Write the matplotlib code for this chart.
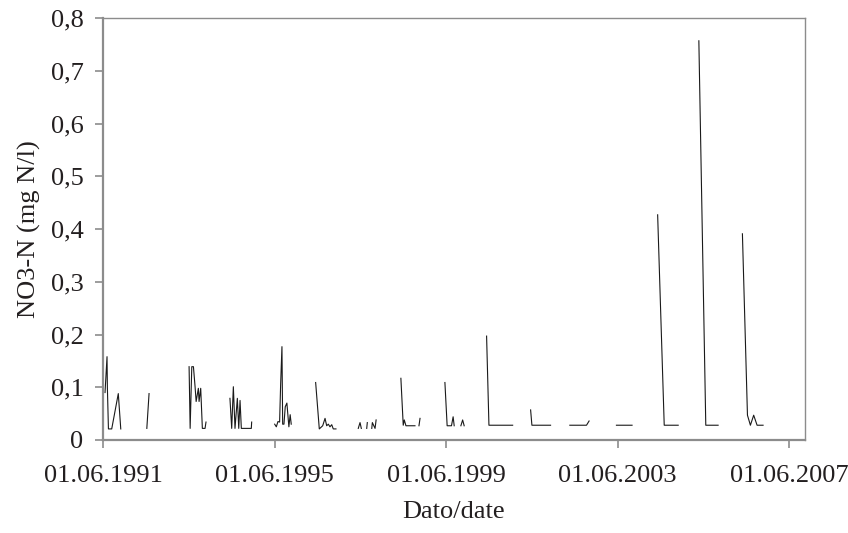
import numpy as np
import pandas as pd
import matplotlib
matplotlib.use('Agg')
import matplotlib.pyplot as plt
import matplotlib.dates as mdates

# NO3-N samples; None marks a break in the line
dates = [
    '1991-06-18', '1991-07-05', '1991-07-08', '1991-07-17', '1991-08-14', '1991-10-09', '1991-10-30', None,
    '1992-06-08', '1992-06-27', None,
    '1993-06-03', '1993-06-12', '1993-06-26', '1993-07-10', '1993-07-24', '1993-08-02', '1993-08-21',
    '1993-08-27', '1993-09-10', '1993-09-24', '1993-10-17', '1993-10-25', None,
    '1994-05-17', '1994-06-01', '1994-06-15', '1994-06-29', '1994-07-19', '1994-07-31', '1994-08-11',
    '1994-08-22', '1994-11-15', '1994-11-18', None,
    '1995-06-02', '1995-06-16', '1995-06-30', '1995-07-14', '1995-07-23', '1995-08-03', '1995-08-09',
    '1995-08-20', '1995-08-31', '1995-09-14', '1995-10-01', '1995-10-12', '1995-10-21', None,
    '1996-05-16', '1996-06-16', '1996-07-15', '1996-08-04', '1996-08-18', '1996-09-01', '1996-09-15',
    '1996-09-30', '1996-10-13', '1996-11-05', None,
    '1997-05-14', '1997-05-29', '1997-06-09', None,
    '1997-07-25', '1997-07-30', None,
    '1997-09-06', '1997-09-11', '1997-10-04', '1997-10-13', None,
    '1998-05-12', '1998-06-01', '1998-06-10', '1998-06-24', '1998-09-09', None,
    '1998-10-13', '1998-10-22', None,
    '1999-05-22', '1999-06-10', '1999-07-17', '1999-07-31', '1999-08-09', None,
    '1999-10-05', '1999-10-20', '1999-11-02', None,
    '2000-05-11', '2000-05-31', '2000-12-19', None,
    '2001-05-21', '2001-06-01', '2001-11-07', None,
    '2002-04-20', '2002-09-09', '2002-10-01', None,
    '2003-05-22', '2003-10-02', None,
    '2004-05-07', '2004-07-02', '2004-10-29', None,
    '2005-04-23', '2005-06-21', '2005-10-04', None,
    '2006-04-29', '2006-06-11', '2006-07-06', '2006-08-03', '2006-09-01', '2006-10-22',
]
no3 = [
    0.09, 0.158, 0.10, 0.021, 0.021, 0.088, 0.021, None,
    0.022, 0.088, None,
    0.139, 0.022, 0.139, 0.139, 0.101, 0.073, 0.098,
    0.073, 0.098, 0.022, 0.022, 0.034, None,
    0.079, 0.022, 0.101, 0.022, 0.079, 0.022, 0.075,
    0.022, 0.022, 0.034, None,
    0.030, 0.025, 0.035, 0.034, 0.107, 0.177, 0.030,
    0.030, 0.063, 0.070, 0.025, 0.048, 0.030, None,
    0.109, 0.021, 0.027, 0.041, 0.027, 0.030, 0.025,
    0.029, 0.021, 0.021, None,
    0.022, 0.033, 0.022, None,
    0.022, 0.033, None,
    0.022, 0.033, 0.022, 0.038, None,
    0.117, 0.028, 0.038, 0.027, 0.027, None,
    0.027, 0.041, None,
    0.109, 0.027, 0.027, 0.044, 0.027, None,
    0.027, 0.038, 0.027, None,
    0.197, 0.028, 0.028, None,
    0.057, 0.028, 0.028, None,
    0.028, 0.028, 0.036, None,
    0.028, 0.028, None,
    0.427, 0.028, 0.028, None,
    0.757, 0.028, 0.028, None,
    0.391, 0.047, 0.028, 0.047, 0.028, 0.028,
]
tick_dates = ['1991-06-01', '1995-06-01', '1999-06-01', '2003-06-01', '2007-06-01']
y_ticks = [0, 0.1, 0.2, 0.3, 0.4, 0.5, 0.6, 0.7, 0.8]
y_labels = ['0', '0,1', '0,2', '0,3', '0,4', '0,5', '0,6', '0,7', '0,8']

x = pd.to_datetime(pd.Series(dates))
y = pd.Series(no3, dtype=float)

plt.rcParams['font.family'] = ['Liberation Serif', 'DejaVu Serif']
text_col = '#231f20'
frame_col = '#8c8c8c'

fig = plt.figure(figsize=(8.48, 5.33), dpi=100)
ax = fig.add_axes([0.1215, 0.1745, 0.8275, 0.7915])
ax.plot(x, y, color='#1a1a1a', lw=0.8)

ax.set_xlim(pd.Timestamp('1991-06-01'), pd.Timestamp('2007-10-12'))
ax.set_ylim(0, 0.8)
ax.set_xticks(pd.to_datetime(tick_dates))
ax.xaxis.set_major_formatter(mdates.DateFormatter('%d.%m.%Y'))
ax.set_yticks(y_ticks)
ax.set_yticklabels(y_labels)

for s in ax.spines.values():
    s.set_color(frame_col)
    s.set_linewidth(1.0)
ax.spines['bottom'].set_linewidth(1.6)
ax.spines['left'].set_linewidth(1.6)
ax.tick_params(direction='out', length=6, width=1.2, color=frame_col,
               labelsize=19, labelcolor=text_col)
ax.tick_params(axis='x', pad=12)
ax.tick_params(axis='y', pad=8)

ax.set_xlabel('Dato/date', fontsize=19, color=text_col, labelpad=10)
ax.set_ylabel('NO3-N (mg N/l)', fontsize=19, color=text_col, labelpad=7)

fig.savefig('out.png', dpi=100)
